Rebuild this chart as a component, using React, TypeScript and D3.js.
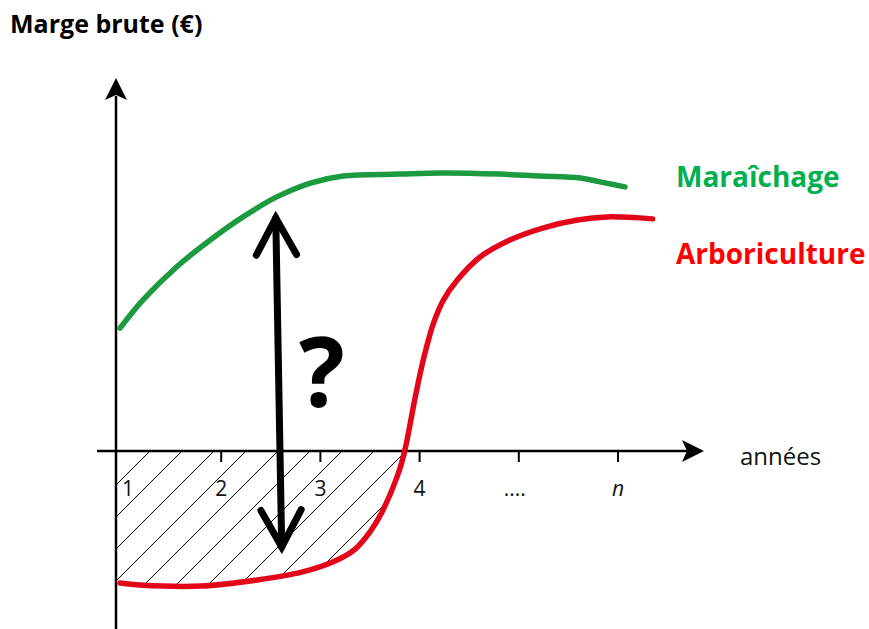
import React from 'react';
import * as d3 from 'd3';

// x positions are "years" (1 .. n), y values are gross margin in arbitrary units
const greenYears = [0.98, 1.21, 1.55, 1.89, 2.22, 2.56, 2.9, 3.23, 3.8, 4.21, 4.81, 5.21, 5.62, 5.82, 6.07];
const greenMargin = [44.2, 54.3, 66.2, 75.9, 84.2, 91.4, 96.4, 98.9, 99.6, 100, 99.6, 98.9, 98.2, 96.8, 95.0];

const redYears = [0.98, 1.18, 1.79, 2.36, 2.82, 3.17, 3.35, 3.5, 3.62, 3.78, 3.85, 3.95, 4.02, 4.07, 4.14, 4.24, 4.38, 4.61, 4.91, 5.24, 5.59, 5.89, 6.35];
const redMargin = [-47.5, -48.2, -48.6, -46.4, -43.5, -39.2, -35.3, -29.1, -22.0, -8.6, 0, 18.3, 30.2, 37.4, 46.0, 54.3, 61.5, 69.8, 75.9, 80.2, 83.1, 84.2, 83.5];

const tickYears = [1, 2, 3, 4, 5, 6];
const tickLabels = ['1', '2', '3', '4', '....', 'n'];

// the "?" double arrow (gap between the two curves)
const gapArrowYears = [2.55, 2.61];
const gapArrowMargin = [83.8, -34.5];

const W = 869;
const H = 629;
const FONT = '"Open Sans", "DejaVu Sans", sans-serif';
const GREEN_LINE = '#1c9a3f';
const RED_LINE = '#e3061a';

const App = () => {
  const x = d3.scaleLinear().domain([1, 6]).range([122, 618]);
  const y = d3.scaleLinear().domain([0, 100]).range([451, 173]);

  const axisX = x(1) - 6; // vertical axis
  const axisY = y(0); // horizontal axis

  const green = greenYears.map((t, i) => ({ t, v: greenMargin[i] }));
  const red = redYears.map((t, i) => ({ t, v: redMargin[i] }));

  const curve = d3.curveCatmullRom.alpha(0.5);
  const line = d3.line<{ t: number; v: number }>()
    .x(d => x(d.t))
    .y(d => y(d.v))
    .curve(curve);

  // hatched loss zone: between axis and red curve while it is negative
  const negative = red.filter(d => d.v <= 0);
  const area = d3.area<{ t: number; v: number }>()
    .x(d => x(d.t))
    .y0(axisY)
    .y1(d => y(d.v))
    .curve(curve);
  const lossPath = area([{ t: x.invert(axisX), v: negative[0].v }, ...negative]);

  const a0 = { x: x(gapArrowYears[0]), y: y(gapArrowMargin[0]) };
  const a1 = { x: x(gapArrowYears[1]), y: y(gapArrowMargin[1]) };
  const ang = Math.atan2(a1.y - a0.y, a1.x - a0.x);
  const head = (px: number, py: number, dir: number) => {
    const L = 42, spread = 0.5;
    const p1 = [px - L * Math.cos(dir - spread), py - L * Math.sin(dir - spread)];
    const p2 = [px - L * Math.cos(dir + spread), py - L * Math.sin(dir + spread)];
    return `M${p1[0]},${p1[1]}L${px},${py}L${p2[0]},${p2[1]}`;
  };

  return (
    <svg width={W} height={H} style={{ position: 'absolute', left: 0, top: 0, background: '#fff' }}>
      <defs>
        <pattern id="hatch" patternUnits="userSpaceOnUse" x={25} y={0} width={32} height={32}>
          <path d="M-1,1L1,-1M0,32L32,0M31,33L33,31" stroke="#000" strokeWidth={1} />
        </pattern>
      </defs>

      {/* hatched area */}
      <path d={lossPath || ''} fill="url(#hatch)" stroke="none" />

      {/* axes */}
      <line x1={axisX} y1={H} x2={axisX} y2={96} stroke="#000" strokeWidth={2.5} />
      <path d={`M${axisX},78L${axisX + 11},100L${axisX},95L${axisX - 11},100Z`} fill="#000" />
      <line x1={97} y1={axisY} x2={688} y2={axisY} stroke="#000" strokeWidth={2.5} />
      <path d={`M704,${axisY}L682,${axisY - 11}L687,${axisY}L682,${axisY + 11}Z`} fill="#000" />

      {tickYears.map((t, i) => (
        <g key={t}>
          {i > 0 && (
            <line x1={x(t)} y1={axisY} x2={x(t)} y2={axisY + 11} stroke="#000" strokeWidth={2} />
          )}
          <text
            x={i === 0 ? x(t) + 6 : i === 4 ? x(t) - 4 : x(t)}
            y={496}
            textAnchor="middle"
            fontFamily={FONT}
            fontSize={21}
            fontStyle={tickLabels[i] === 'n' ? 'italic' : 'normal'}
            fill="#111"
          >
            {tickLabels[i]}
          </text>
        </g>
      ))}

      {/* curves */}
      <path d={line(green) || ''} fill="none" stroke={GREEN_LINE} strokeWidth={5.5} strokeLinecap="round" />
      <path d={line(red) || ''} fill="none" stroke={RED_LINE} strokeWidth={5.5} strokeLinecap="round" />

      {/* double arrow */}
      <line x1={a0.x} y1={a0.y} x2={a1.x} y2={a1.y} stroke="#000" strokeWidth={7} strokeLinecap="round" />
      <path d={head(a0.x, a0.y, ang + Math.PI)} fill="none" stroke="#000" strokeWidth={7} strokeLinecap="round" strokeLinejoin="miter" />
      <path d={head(a1.x, a1.y, ang)} fill="none" stroke="#000" strokeWidth={7} strokeLinecap="round" strokeLinejoin="miter" />
      <text x={322} y={407} textAnchor="middle" fontFamily={FONT} fontWeight={700} fontSize={96} fill="#000">?</text>

      {/* labels */}
      <text x={10} y={33} fontFamily={FONT} fontWeight={700} fontSize={25} fill="#000">Marge brute (€)</text>
      <text x={740} y={465} fontFamily={FONT} fontSize={24} fill="#111">années</text>
      <text x={676} y={187} fontFamily={FONT} fontWeight={700} fontSize={28} fill="#00b050">Maraîchage</text>
      <text x={676} y={264} fontFamily={FONT} fontWeight={700} fontSize={28} fill="#ff0000">Arboriculture</text>
    </svg>
  );
};

export default App;
